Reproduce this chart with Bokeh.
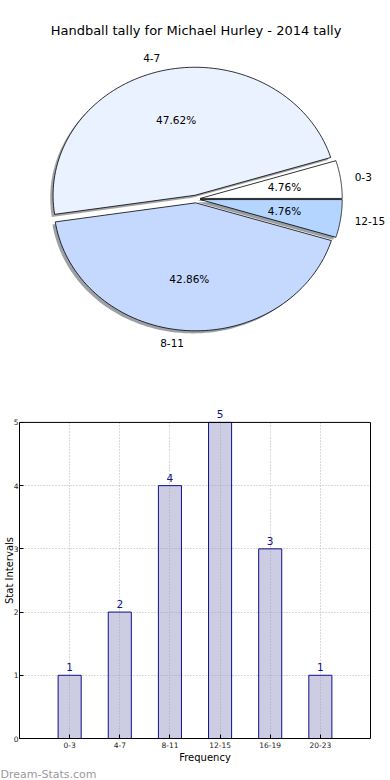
import numpy as np
from bokeh.plotting import figure
from bokeh.layouts import column
from bokeh.models import (ColumnDataSource, Range1d, Label, LabelSet, Title,
                          FixedTicker, Grid, BoxAnnotation)
from bokeh.core.properties import value, field
from bokeh.embed import file_html
from bokeh.resources import INLINE

# ---------------- data ----------------
title_text = "Handball tally for Michael Hurley - 2014 tally"
pie_labels = ["0-3", "4-7", "8-11", "12-15"]
pie_counts = [1, 10, 9, 1]
pie_colors = ["#ffffff", "#ebf2ff", "#c5d9ff", "#b3d5ff"]

bar_cats = ["0-3", "4-7", "8-11", "12-15", "16-19", "20-23"]
bar_vals = [1, 2, 4, 5, 3, 1]
x_label = "Frequency"
y_label = "Stat Intervals"
watermark = "Dream-Stats.com"

FONT = "DejaVu Sans"
BORDER_L = 19

# ---------------- pie ----------------
explode = 0.03
shadow_off = -0.02
counts = np.array(pie_counts, dtype=float)
frac = counts / counts.sum()
edges = np.concatenate([[0.0], np.cumsum(frac) * 360.0])

xs, ys, sxs, sys_, scol = [], [], [], [], []
lab_x, lab_y, lab_align, pct_x, pct_y, pct_txt = [], [], [], [], [], []
for i, f in enumerate(frac):
    a0, a1 = edges[i], edges[i + 1]
    mid = np.radians((a0 + a1) / 2)
    ox, oy = explode * np.cos(mid), explode * np.sin(mid)
    t = np.radians(np.linspace(a0, a1, 90))
    px = np.concatenate([[ox], ox + np.cos(t)])
    py = np.concatenate([[oy], oy + np.sin(t)])
    xs.append(list(px)); ys.append(list(py))
    sxs.append(list(px + shadow_off)); sys_.append(list(py + shadow_off))
    c = pie_colors[i].lstrip("#")
    rgb = [int(c[k:k + 2], 16) for k in (0, 2, 4)]
    scol.append("#%02x%02x%02x" % tuple(int(0.3 * v) for v in rgb))
    lab_x.append(ox + 1.1 * np.cos(mid)); lab_y.append(oy + 1.1 * np.sin(mid))
    lab_align.append("left" if np.cos(mid) > 0 else "right")
    pct_x.append(ox + 0.6 * np.cos(mid)); pct_y.append(oy + 0.6 * np.sin(mid))
    pct_txt.append("%.2f%%" % (f * 100))

p1 = figure(width=390, height=388, output_backend="svg", toolbar_location=None,
            x_range=Range1d(-1.2430, 1.3697), y_range=Range1d(-1.4805, 1.5508),
            x_axis_location=None, y_axis_location=None,
            min_border_left=BORDER_L, min_border_right=0,
            min_border_top=0, min_border_bottom=0)
p1.grid.visible = False
p1.outline_line_color = None

p1.patches(xs="xs", ys="ys", source=ColumnDataSource(dict(xs=sxs, ys=sys_, c=scol)),
           fill_color="c", fill_alpha=0.5, line_color=None)
p1.patches(xs="xs", ys="ys",
           source=ColumnDataSource(dict(xs=xs, ys=ys, c=pie_colors)),
           fill_color="c", line_color="black", line_width=0.8)

p1.text(x="x", y="y", text="t",
        source=ColumnDataSource(dict(x=lab_x, y=lab_y, t=pie_labels, a=lab_align)),
        text_align=field("a"), text_baseline="middle",
        text_font=value(FONT), text_font_size="10.5px", text_color="black")
p1.text(x="x", y="y", text="t",
        source=ColumnDataSource(dict(x=pct_x, y=pct_y, t=pct_txt)),
        text_align="center", text_baseline="middle",
        text_font=value(FONT), text_font_size="10.5px", text_color="black")

p1.add_layout(Label(x=0, y=1.3164, text=title_text, text_align="center",
                    text_baseline="middle", text_font=FONT,
                    text_font_size="13px", text_color="black"))

# ---------------- bars ----------------
n = len(bar_cats)
idx = list(range(n))
ymax = max(bar_vals)
x_lo, x_hi = -1, n            # axes box in data units
px_per_x = (370 - BORDER_L) / (x_hi - x_lo)
x_end = x_hi + 20 / px_per_x
y_end = ymax * 1.063
p2 = figure(width=390, height=392, output_backend="svg", toolbar_location=None,
            x_range=Range1d(x_lo, x_end), y_range=Range1d(0, y_end),
            min_border_left=BORDER_L, min_border_right=0,
            min_border_top=14, min_border_bottom=40)
p2.outline_line_color = None

for g in (p2.xgrid, p2.ygrid):
    g.grid_line_color = "#b4b4b4"
    g.grid_line_dash = "1 2"
    g.grid_line_width = 1

if "cross_bounds" in Grid.properties():
    p2.xgrid.cross_bounds = (0, ymax)
    p2.ygrid.cross_bounds = (x_lo, x_hi)
else:
    for kw in (dict(bottom=ymax), dict(left=x_hi)):
        p2.add_layout(BoxAnnotation(fill_color="white", fill_alpha=1,
                                    line_color=None, level="underlay", **kw))

src = ColumnDataSource(dict(x=idx, val=bar_vals, txt=[str(v) for v in bar_vals]))
p2.vbar(x="x", top="val", width=0.46, source=src,
        fill_color="#9a9ac8", fill_alpha=0.5, line_color="#10108c", line_width=1)

# axes box
p2.quad(left=[x_lo], right=[x_hi], bottom=[0], top=[ymax],
        fill_color=None, line_color="black", line_width=1)

p2.add_layout(LabelSet(x="x", y="val", text="txt", source=src, y_offset=4,
                       text_align="center", text_baseline="bottom",
                       text_font=value(FONT), text_font_size="10.5px",
                       text_color="#10108c"))

p2.xaxis.ticker = FixedTicker(ticks=idx)
p2.xaxis.major_label_overrides = {i: c for i, c in zip(idx, bar_cats)}
p2.xaxis.bounds = (x_lo, x_hi)
p2.yaxis.ticker = FixedTicker(ticks=list(range(0, ymax + 1)))
p2.yaxis.bounds = (0, ymax)
for ax in (p2.xaxis, p2.yaxis):
    ax.axis_line_color = "black"
    ax.major_tick_in = 4
    ax.major_tick_out = 0
    ax.minor_tick_line_color = None
    ax.major_tick_line_color = "black"
    ax.major_label_text_font = FONT
    ax.major_label_text_font_size = "7.5px"
    ax.major_label_text_color = "#222222"
    ax.major_label_standoff = 3
    ax.axis_label_text_font = FONT
    ax.axis_label_text_font_style = "normal"
    ax.axis_label_text_font_size = "10px"
    ax.axis_label_text_color = "black"
p2.yaxis.major_label_standoff = 1

p2.xaxis.axis_label = x_label
p2.xaxis.axis_label_standoff = 1
p2.yaxis.axis_label = y_label
p2.yaxis.axis_label_standoff = -4

p2.add_layout(Title(text=watermark, align="left", offset=-BORDER_L, standoff=0,
                    text_font=FONT, text_font_size="11px",
                    text_font_style="normal", text_color="#9a9a9a"), "below")

layout = column(p1, p2, spacing=0)
open("out.html", "w").write(file_html(layout, INLINE))
